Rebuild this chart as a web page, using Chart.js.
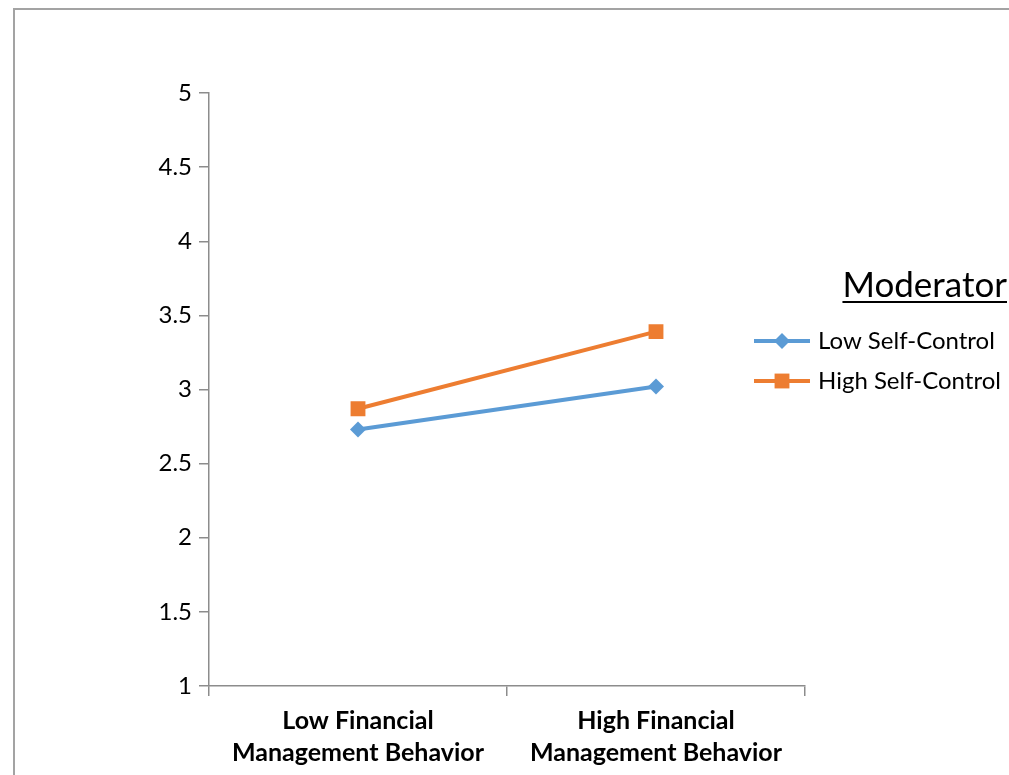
<!DOCTYPE html>
<html>
<head>
<meta charset="utf-8">
<script src="https://cdn.jsdelivr.net/npm/chart.js@4/dist/chart.umd.min.js"></script>
<style>
  html, body { margin: 0; padding: 0; background: #fff; }
  canvas { display: block; }
</style>
</head>
<body>
<canvas id="plot" width="1009" height="775"></canvas>
<script>
    const categories = [
        ['Low Financial', 'Management Behavior'],
        ['High Financial', 'Management Behavior']
    ];
    const lowSelfControl = [2.73, 3.02];
    const highSelfControl = [2.87, 3.39];
    const seriesNames = ['Low Self-Control', 'High Self-Control'];
    const legendTitle = 'Moderator';
    const yMin = 1, yMax = 5, yStep = 0.5;

    const FONT = 'Lato, "Liberation Sans", sans-serif';
    const axisGray = '#8c8c8c';

    // outer frame, clipped at right and bottom like the source
    const framePlugin = {
        id: 'frame',
        beforeDraw(chart) {
            let ctx = chart.ctx;
            ctx.save();
            ctx.fillStyle = '#fff';
            ctx.fillRect(0, 0, chart.width, chart.height);
            ctx.strokeStyle = '#a3a3a3';
            ctx.lineWidth = 2;
            ctx.strokeRect(14, 9, 1200, 1000);
            ctx.restore();
        }
    };

    function drawMarker(ctx, style, x, y, r) {
        ctx.beginPath();
        if (style === 'rectRot') {
            ctx.moveTo(x, y - r);
            ctx.lineTo(x + r, y);
            ctx.lineTo(x, y + r);
            ctx.lineTo(x - r, y);
        } else {
            let s = r * Math.SQRT1_2;
            ctx.rect(x - s, y - s, 2 * s, 2 * s);
        }
        ctx.closePath();
        ctx.fill();
    }

    // legend drawn by hand: underlined title, line + marker samples
    const legendPlugin = {
        id: 'sideLegend',
        afterDraw(chart) {
            let ctx = chart.ctx;
            ctx.save();
            ctx.fillStyle = '#000';
            ctx.font = '35px ' + FONT;
            ctx.textAlign = 'right';
            ctx.textBaseline = 'alphabetic';
            let tw = ctx.measureText(legendTitle).width;
            ctx.fillText(legendTitle, 1007, 297);
            ctx.fillRect(1007 - tw, 301, tw, 2);

            chart.data.datasets.forEach((ds, i) => {
                let y = 341 + i * 40;
                ctx.strokeStyle = ds.borderColor;
                ctx.fillStyle = ds.borderColor;
                ctx.lineWidth = 4;
                ctx.beginPath();
                ctx.moveTo(754, y);
                ctx.lineTo(810, y);
                ctx.stroke();
                drawMarker(ctx, ds.pointStyle, 782, y, ds.pointRadius);
                ctx.fillStyle = '#000';
                ctx.font = '24px ' + FONT;
                ctx.textAlign = 'left';
                ctx.textBaseline = 'middle';
                ctx.fillText(ds.label, 818, y);
            });
            ctx.restore();
        }
    };

    function initChart() {
        let ctx = document.getElementById('plot').getContext('2d');
        const config = {
            type: 'line',
            data: {
                labels: categories,
                datasets: [{
                    label: seriesNames[0],
                    data: lowSelfControl,
                    borderColor: '#5b9bd5',
                    backgroundColor: '#5b9bd5',
                    borderWidth: 4,
                    pointStyle: 'rectRot',
                    pointRadius: 8,
                    pointBorderWidth: 0,
                    tension: 0
                }, {
                    label: seriesNames[1],
                    data: highSelfControl,
                    borderColor: '#ed7d31',
                    backgroundColor: '#ed7d31',
                    borderWidth: 4,
                    pointStyle: 'rect',
                    pointRadius: 10.5,
                    pointBorderWidth: 0,
                    tension: 0
                }]
            },
            options: {
                responsive: false,
                animation: false,
                layout: { padding: { left: 0, right: 204, top: 93, bottom: 0 } },
                plugins: {
                    legend: { display: false },
                    tooltip: { enabled: false }
                },
                scales: {
                    x: {
                        offset: true,
                        afterFit: (scale) => { scale.height = 89; },
                        border: { display: true, color: axisGray, width: 1.5 },
                        grid: {
                            offset: true,
                            drawOnChartArea: false,
                            drawTicks: true,
                            tickLength: 10,
                            color: axisGray,
                            lineWidth: 1.5
                        },
                        ticks: {
                            color: '#000',
                            padding: 9,
                            font: { family: FONT, size: 25, weight: 'bold', lineHeight: 1.28 },
                            maxRotation: 0
                        }
                    },
                    y: {
                        min: yMin,
                        max: yMax,
                        afterFit: (scale) => { scale.width = 209; },
                        border: { display: true, color: axisGray, width: 1.5 },
                        grid: {
                            drawOnChartArea: false,
                            drawTicks: true,
                            tickLength: 10,
                            color: axisGray,
                            lineWidth: 1.5
                        },
                        ticks: {
                            stepSize: yStep,
                            color: '#000',
                            padding: 7,
                            font: { family: FONT, size: 24 },
                            callback: (v) => String(+Number(v).toFixed(1))
                        }
                    }
                }
            },
            plugins: [framePlugin, legendPlugin]
        };
        window.plotChart = new Chart(ctx, config);
    }

    document.addEventListener('DOMContentLoaded', initChart);
</script>
</body>
</html>
